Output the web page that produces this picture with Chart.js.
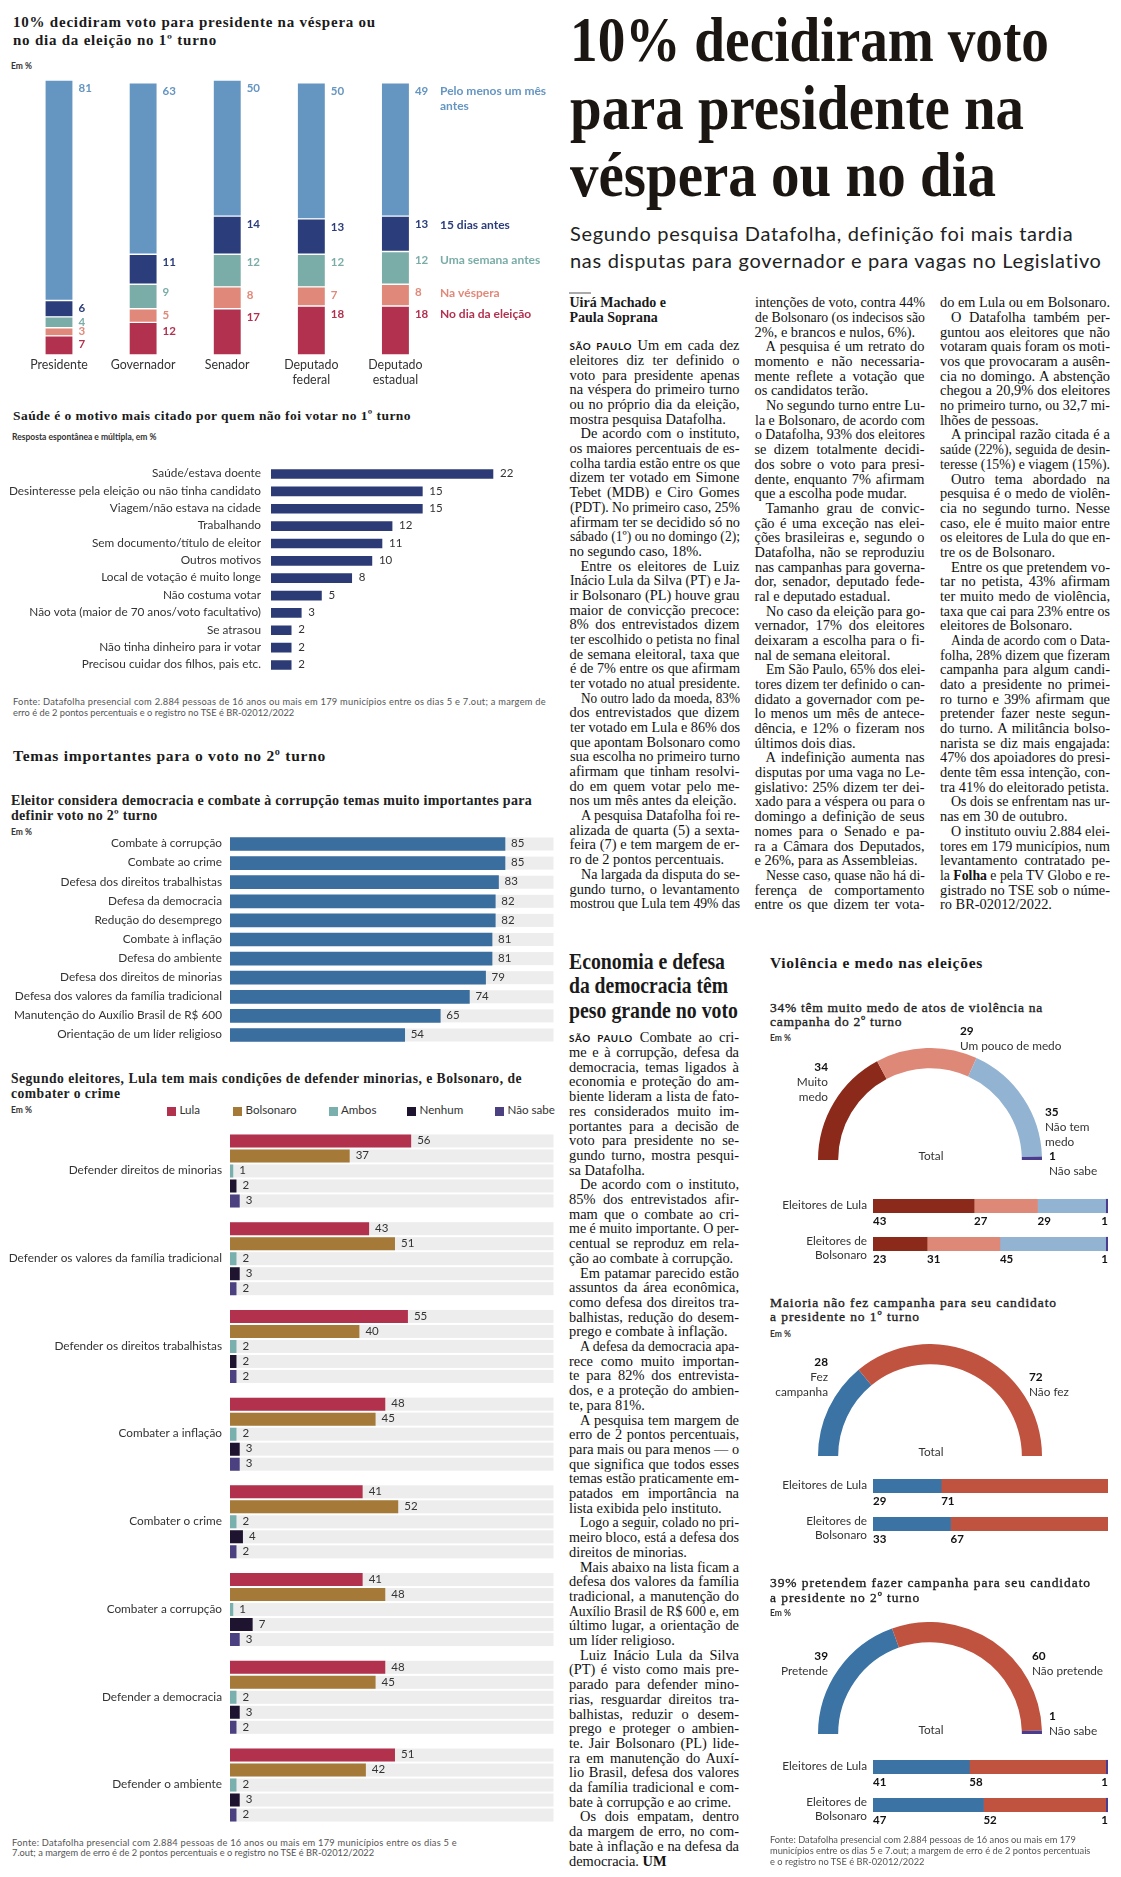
<!DOCTYPE html>
<html lang="pt-BR"><head><meta charset="utf-8"><title>Datafolha</title>
<script src="https://cdn.jsdelivr.net/npm/chart.js@4.4.1/dist/chart.umd.min.js"></script>
<style>
html,body{margin:0;padding:0;background:#fff}
body{position:relative;width:1121px;height:1877px;overflow:hidden}
.t{position:absolute;white-space:nowrap}
.sp{font-family:Lato,sans-serif;font-weight:700;font-size:9.8px;letter-spacing:.7px}
</style></head><body>
<script>
// ---------------- DATA ----------------
// Chart 1: momento da decisão do voto (empilhado)
const c1Cats = [["Presidente"],["Governador"],["Senador"],["Deputado","federal"],["Deputado","estadual"]];
const c1Names = [["No dia da eleição"],["Na véspera"],["Uma semana antes"],["15 dias antes"],["Pelo menos um mês","antes"]];
const c1NoDia   = [7,12,17,18,18];
const c1Vespera = [3,5,8,7,8];
const c1Semana  = [4,9,12,12,12];
const c1Quinze  = [6,11,14,13,13];
const c1Mes     = [81,63,50,50,49];

// Chart 2: motivos para não votar
const c2Cats = ["Saúde/estava doente","Desinteresse pela eleição ou não tinha candidato","Viagem/não estava na cidade","Trabalhando","Sem documento/título de eleitor","Outros motivos","Local de votação é muito longe","Não costuma votar","Não vota (maior de 70 anos/voto facultativo)","Se atrasou","Não tinha dinheiro para ir votar","Precisou cuidar dos filhos, pais etc."];
const c2Vals = [22,15,15,12,11,10,8,5,3,2,2,2];

// Chart 3: temas muito importantes
const c3Cats = ["Combate à corrupção","Combate ao crime","Defesa dos direitos trabalhistas","Defesa da democracia","Redução do desemprego","Combate à inflação","Defesa do ambiente","Defesa dos direitos de minorias","Defesa dos valores da família tradicional","Manutenção do Auxílio Brasil de R$ 600","Orientação de um líder religioso"];
const c3Vals = [85,85,83,82,82,81,81,79,74,65,54];

// Chart 4: quem tem mais condições
const c4Cats = ["Defender direitos de minorias","Defender os valores da família tradicional","Defender os direitos trabalhistas","Combater a inflação","Combater o crime","Combater a corrupção","Defender a democracia","Defender o ambiente"];
const c4Series = ["Lula","Bolsonaro","Ambos","Nenhum","Não sabe"];
const c4Lula    = [56,43,55,48,41,41,48,51];
const c4Bols    = [37,51,40,45,52,48,45,42];
const c4Ambos   = [1,2,2,2,2,1,2,2];
const c4Nenhum  = [2,3,2,3,4,7,3,3];
const c4NaoSabe = [3,2,2,3,2,3,2,2];

// Gauges
const rowLabels = [["Eleitores de Lula"],["Eleitores de","Bolsonaro"]];
const g1Names = [["Muito","medo"],["Um pouco de medo"],["Não tem","medo"],["Não sabe"]];
const g1Total = [34,29,35,1];
const g1Lula  = [43,27,29,1];
const g1Bols  = [23,31,45,1];
const g2Names = [["Fez","campanha"],["Não fez"]];
const g2Total = [28,72];
const g2Lula  = [29,71];
const g2Bols  = [33,67];
const g3Names = [["Pretende"],["Não pretende"],["Não sabe"]];
const g3Total = [39,60,1];
const g3Lula  = [41,58,1];
const g3Bols  = [47,52,1];

// ---------------- STYLE ----------------
const SANS = "Lato, 'Noto Sans', sans-serif";
const SERIF = "'Liberation Serif', 'DejaVu Serif', serif";
const c1Colors = ['#b2314e','#e0897a','#7bada8','#2b3d7a','#6595c1'];
const c4Colors = ['#b2324e','#a57a39','#79b0ae','#1e1430','#4b4180'];
const g1Colors = ['#8b2a1b','#de8978','#93b3d2','#4a3d8f'];
const g2Colors = ['#3a73a4','#c0533f'];
const g3Colors = ['#3a73a4','#c0533f','#4a3d8f'];
const LBL = 11.8;

// ---------------- HELPERS ----------------
function T(x,yc,html,o){o=o||{};const fs=o.fs||11;const d=document.createElement('div');d.className='t';d.innerHTML=html;
  d.style.fontFamily=o.ff||SANS;d.style.fontSize=fs+'px';d.style.fontWeight=o.fw||'400';d.style.lineHeight=(fs*1.2)+'px';
  d.style.top=(yc-0.67*fs)+'px';d.style.color=o.col||'#222';
  if(o.stroke)d.style.webkitTextStroke=o.stroke+'px '+(o.col||'#222');
  if(o.ls!=null)d.style.letterSpacing=o.ls+'px';
  if(o.align==='right')d.style.right=(1121-x)+'px';
  else if(o.align==='center'){d.style.left=x+'px';d.style.transform='translateX(-50%)';}
  else d.style.left=x+'px';
  document.body.appendChild(d);
  if(o.fit){const w=d.getBoundingClientRect().width;const n=[...d.textContent].length;const ls=(o.fit-w)/n;d.style.letterSpacing=ls+'px';d.ls=ls;}
  if(o.sfit){const w=d.getBoundingClientRect().width;d.style.transformOrigin='0 50%';d.style.transform=`scaleX(${o.sfit/w})`;}
  return d;}
function body(x,y0,lh,w,lines,fs,contLast){
  lines.forEach((s,i)=>{ if(s===null)return;
    let ind=s.startsWith('^'); if(ind)s=s.slice(1);
    const next=lines[i+1];
    const last=(next===undefined)?!contLast:(next===null||next.startsWith('^'));
    const d=document.createElement('div');
    const left=x+(ind?11:0), width=w-(ind?11:0);
    d.style.cssText=`position:absolute;left:${left}px;top:${y0+i*lh-0.67*fs}px;width:${width}px;font-family:${SERIF};font-size:${fs}px;line-height:${fs*1.2}px;white-space:nowrap;color:#111`;
    d.innerHTML='<span>'+s+'</span>';
    document.body.appendChild(d);
    const nat=d.firstChild.getBoundingClientRect().width;
    if(nat>width-0.5){d.style.transformOrigin='0 50%';d.style.transform=`scaleX(${width/nat})`;}
    else if(!last){d.style.whiteSpace='normal';d.style.textAlign='justify';d.style.textAlignLast='justify';}
  });}
function mk(left,top,w,h,cfg){const d=document.createElement('div');
  d.style.cssText=`position:absolute;left:${left}px;top:${top}px;width:${w}px;height:${h}px`;
  const c=document.createElement('canvas');d.appendChild(c);document.body.appendChild(d);return new Chart(c,cfg);}
function opts(pad,extra){return Object.assign({responsive:true,maintainAspectRatio:false,animation:false,events:[],layout:{padding:pad},
  plugins:{legend:{display:false},tooltip:{enabled:false}}},extra||{});}

// ---------------- LEFT: CHART 1 ----------------
const t1a=T(13,23,'10% decidiram voto para presidente na véspera ou',{ff:SERIF,fs:15,fw:700,col:'#1a1a1a',fit:363});
T(13,41,'no dia da eleição no 1º turno',{ff:SERIF,fs:15,fw:700,col:'#1a1a1a',ls:t1a.ls});
T(11,67,'Em %',{fs:8.5,fw:700,col:'#333'});

const c1Plugin={id:'c1',afterDatasetsDraw(chart){const ctx=chart.ctx;ctx.save();ctx.textBaseline='middle';
  chart.data.datasets.forEach((ds,i)=>{chart.getDatasetMeta(i).data.forEach((el,j)=>{
    const top=Math.min(el.y,el.base),bot=Math.max(el.y,el.base);const y=Math.min(top+9,(top+bot)/2)-0.5;
    ctx.font=`700 11.5px ${SANS}`;ctx.fillStyle=c1Colors[i];ctx.textAlign='left';
    ctx.fillText(ds.data[j],el.x+el.width/2+6,y);
    if(j===ds.data.length-1){ctx.font=`700 12px ${SANS}`;c1Names[i].forEach((ln,k)=>ctx.fillText(ln,440,y+k*15));}
  });});
  const m=chart.getDatasetMeta(0);ctx.font=`12.4px ${SANS}`;ctx.fillStyle='#333';ctx.textAlign='center';
  chart.data.labels.forEach((lab,j)=>lab.forEach((ln,k)=>ctx.fillText(ln,m.data[j].x,chart.chartArea.bottom+9.5+k*15)));
  ctx.restore();}};
mk(0,70,560,320,{type:'bar',data:{labels:c1Cats,datasets:[c1NoDia,c1Vespera,c1Semana,c1Quinze,c1Mes].map((d,i)=>({data:d,backgroundColor:c1Colors[i],borderColor:'#fff',borderWidth:{top:1,bottom:1,left:0,right:0},borderSkipped:false,barThickness:27}))},
  options:opts({left:16.95,right:122.55,top:10,bottom:35},{scales:{x:{display:false,stacked:true},y:{display:false,stacked:true,min:0,max:101}}}),plugins:[c1Plugin]});

// ---------------- generic horizontal labels ----------------
function hLabels(catDs,catGap,valGap){return {id:'hl',afterDatasetsDraw(chart){const ctx=chart.ctx;ctx.save();ctx.textBaseline='middle';
  ctx.font=`11.5px ${SANS}`;ctx.fillStyle='#333';ctx.textAlign='left';
  chart.data.datasets.forEach((ds,i)=>{chart.getDatasetMeta(i).data.forEach((el,j)=>ctx.fillText(ds.data[j],el.x+valGap,el.y-0.5));});
  const m=chart.getDatasetMeta(catDs);ctx.textAlign='right';ctx.font=`${LBL}px ${SANS}`;
  chart.data.labels.forEach((lab,j)=>ctx.fillText(lab,chart.chartArea.left-catGap,m.data[j].y-0.5));
  ctx.restore();}};}
const bgPlugin={id:'bg',beforeDatasetsDraw(chart){const ctx=chart.ctx,xs=chart.scales.x;ctx.save();ctx.fillStyle='#ededed';
  chart.data.datasets.forEach((ds,i)=>chart.getDatasetMeta(i).data.forEach(el=>{const x0=xs.getPixelForValue(0),x1=xs.getPixelForValue(100);ctx.fillRect(x0,el.y-el.height/2,x1-x0,el.height);}));
  ctx.restore();}};

// ---------------- CHART 2 ----------------
T(13,417.5,'Saúde é o motivo mais citado por quem não foi votar no 1º turno',{ff:SERIF,fs:13.5,fw:700,col:'#1a1a1a',fit:398});
T(12,437.5,'Resposta espontânea e múltipla, em %',{fs:8.5,fw:700,col:'#333'});
mk(0,455,560,230,{type:'bar',data:{labels:c2Cats,datasets:[{data:c2Vals,backgroundColor:'#2c3b75',barThickness:9,borderWidth:0}]},
  options:opts({left:271,right:6.5,top:10.32,bottom:11.32},{indexAxis:'y',scales:{x:{display:false,min:0,max:28},y:{display:false}}}),plugins:[hLabels(0,10,7)]});
T(13,702,'Fonte: Datafolha presencial com 2.884 pessoas de 16 anos ou mais em 179 municípios entre os dias 5 e 7.out; a margem de',{fs:9.3,col:'#555',fit:533});
T(13,713,'erro é de 2 pontos percentuais e o registro no TSE é BR-02012/2022',{fs:9.3,col:'#555'});

// ---------------- CHART 3 ----------------
T(13,757,'Temas importantes para o voto no 2º turno',{ff:SERIF,fs:15.5,fw:700,col:'#1a1a1a',fit:313});
const t3=T(11,802,'Eleitor considera democracia e combate à corrupção temas muito importantes para',{ff:SERIF,fs:14,fw:700,col:'#222',fit:521});
T(11,817,'definir voto no 2º turno',{ff:SERIF,fs:14,fw:700,col:'#222',ls:t3.ls});
T(11,832.5,'Em %',{fs:8.5,fw:700,col:'#333'});
mk(0,825,560,230,{type:'bar',data:{labels:c3Cats,datasets:[{data:c3Vals,backgroundColor:'#3a6e9e',barThickness:13,borderWidth:0}]},
  options:opts({left:230,right:6.5,top:9.45,bottom:10.45},{indexAxis:'y',scales:{x:{display:false,min:0,max:100},y:{display:false}}}),plugins:[bgPlugin,hLabels(0,8,6)]});

// ---------------- CHART 4 ----------------
const t4=T(11,1080.5,'Segundo eleitores, Lula tem mais condições de defender minorias, e Bolsonaro, de',{ff:SERIF,fs:13.6,fw:700,col:'#222',fit:511});
T(11,1095,'combater o crime',{ff:SERIF,fs:13.6,fw:700,col:'#222',ls:t4.ls});
T(11,1111,'Em %',{fs:8.5,fw:700,col:'#333'});
const legX=[167,233,328.5,407,495];
c4Series.forEach((s,i)=>{const q=document.createElement('div');q.style.cssText=`position:absolute;left:${legX[i]}px;top:${1106.5}px;width:9px;height:9px;background:${c4Colors[i]}`;document.body.appendChild(q);
  T(legX[i]+12.5,1111,s,{fs:11.6,col:'#333'});});
mk(0,1120,560,715,{type:'bar',data:{labels:c4Cats,datasets:[c4Lula,c4Bols,c4Ambos,c4Nenhum,c4NaoSabe].map((d,i)=>({data:d,backgroundColor:c4Colors[i],borderWidth:0,categoryPercentage:0.855,barPercentage:0.867}))},
  options:opts({left:230,right:6.5,top:7.1,bottom:6.1},{indexAxis:'y',scales:{x:{display:false,min:0,max:100},y:{display:false}}}),plugins:[bgPlugin,hLabels(2,8,6)]});
T(12,1843,'Fonte: Datafolha presencial com 2.884 pessoas de 16 anos ou mais em 179 municípios entre os dias 5 e',{fs:9.3,col:'#555',fit:445});
T(12,1853.5,'7.out; a margem de erro é de 2 pontos percentuais e o registro no TSE é BR-02012/2022',{fs:9.3,col:'#555'});

// ---------------- RIGHT: HEADLINE ----------------
T(570,44.9,'10% decidiram voto',{ff:SERIF,fs:64,fw:700,col:'#1b1611',sfit:479});
T(570,112.9,'para presidente na',{ff:SERIF,fs:64,fw:700,col:'#1b1611',sfit:454});
T(570,179.9,'véspera ou no dia',{ff:SERIF,fs:64,fw:700,col:'#1b1611',sfit:426});
T(570,234,'Segundo pesquisa Datafolha, definição foi mais tardia',{fs:20,col:'#222',fit:503});
T(570,261,'nas disputas para governador e para vagas no Legislativo',{fs:20,col:'#222',fit:532});
(function(){const r=document.createElement('div');r.style.cssText='position:absolute;left:569px;top:292px;width:22px;height:1.5px;background:#aaa';document.body.appendChild(r);})();
T(569.5,304,'Uirá Machado e',{ff:SERIF,fs:14,fw:700,col:'#1a1a1a'});
T(569.5,319,'Paula Soprana',{ff:SERIF,fs:14,fw:700,col:'#1a1a1a'});

const col1=[
"<span class=sp>SÃO PAULO</span> Um em cada dez",
"eleitores diz ter definido o",
"voto para presidente apenas",
"na véspera do primeiro turno",
"ou no próprio dia da eleição,",
"mostra pesquisa Datafolha.",
"^De acordo com o instituto,",
"os maiores percentuais de es-",
"colha tardia estão entre os que",
"dizem ter votado em Simone",
"Tebet (MDB) e Ciro Gomes",
"(PDT). No primeiro caso, 25%",
"afirmam ter se decidido só no",
"sábado (1º) ou no domingo (2);",
"no segundo caso, 18%.",
"^Entre os eleitores de Luiz",
"Inácio Lula da Silva (PT) e Ja-",
"ir Bolsonaro (PL) houve grau",
"maior de convicção precoce:",
"8% dos entrevistados dizem",
"ter escolhido o petista no final",
"de semana eleitoral, taxa que",
"é de 7% entre os que afirmam",
"ter votado no atual presidente.",
"^No outro lado da moeda, 83%",
"dos entrevistados que dizem",
"ter votado em Lula e 86% dos",
"que apontam Bolsonaro como",
"sua escolha no primeiro turno",
"afirmam que tinham resolvi-",
"do em quem votar pelo me-",
"nos um mês antes da eleição.",
"^A pesquisa Datafolha foi re-",
"alizada de quarta (5) a sexta-",
"feira (7) e tem margem de er-",
"ro de 2 pontos percentuais.",
"^Na largada da disputa do se-",
"gundo turno, o levantamento",
"mostrou que Lula tem 49% das"];
const col2=[
"intenções de voto, contra 44%",
"de Bolsonaro (os indecisos são",
"2%, e brancos e nulos, 6%).",
"^A pesquisa é um retrato do",
"momento e não necessaria-",
"mente reflete a votação que",
"os candidatos terão.",
"^No segundo turno entre Lu-",
"la e Bolsonaro, de acordo com",
"o Datafolha, 93% dos eleitores",
"se dizem totalmente decidi-",
"dos sobre o voto para presi-",
"dente, enquanto 7% afirmam",
"que a escolha pode mudar.",
"^Tamanho grau de convic-",
"ção é uma exceção nas elei-",
"ções brasileiras e, segundo o",
"Datafolha, não se reproduziu",
"nas campanhas para governa-",
"dor, senador, deputado fede-",
"ral e deputado estadual.",
"^No caso da eleição para go-",
"vernador, 17% dos eleitores",
"deixaram a escolha para o fi-",
"nal de semana eleitoral.",
"^Em São Paulo, 65% dos elei-",
"tores dizem ter definido o can-",
"didato a governador com pe-",
"lo menos um mês de antece-",
"dência, e 12% o fizeram nos",
"últimos dois dias.",
"^A indefinição aumenta nas",
"disputas por uma vaga no Le-",
"gislativo: 25% dizem ter dei-",
"xado para a véspera ou para o",
"domingo a definição de seus",
"nomes para o Senado e pa-",
"ra a Câmara dos Deputados,",
"e 26%, para as Assembleias.",
"^Nesse caso, quase não há di-",
"ferença de comportamento",
"entre os que dizem ter vota-"];
const col3=[
"do em Lula ou em Bolsonaro.",
"^O Datafolha também per-",
"guntou aos eleitores que não",
"votaram quais foram os moti-",
"vos que provocaram a ausên-",
"cia no domingo. A abstenção",
"chegou a 20,9% dos eleitores",
"no primeiro turno, ou 32,7 mi-",
"lhões de pessoas.",
"^A principal razão citada é a",
"saúde (22%), seguida de desin-",
"teresse (15%) e viagem (15%).",
"^Outro tema abordado na",
"pesquisa é o medo de violên-",
"cia no segundo turno. Nesse",
"caso, ele é muito maior entre",
"os eleitores de Lula do que en-",
"tre os de Bolsonaro.",
"^Entre os que pretendem vo-",
"tar no petista, 43% afirmam",
"ter muito medo de violência,",
"taxa que cai para 23% entre os",
"eleitores de Bolsonaro.",
"^Ainda de acordo com o Data-",
"folha, 28% dizem que fizeram",
"campanha para algum candi-",
"dato a presidente no primei-",
"ro turno e 39% afirmam que",
"pretender fazer neste segun-",
"do turno. A militância bolso-",
"narista se diz mais engajada:",
"47% dos apoiadores do presi-",
"dente têm essa intenção, con-",
"tra 41% do eleitorado petista.",
"^Os dois se enfrentam nas ur-",
"nas em 30 de outubro.",
"^O instituto ouviu 2.884 elei-",
"tores em 179 municípios, num",
"levantamento contratado pe-",
"la <b>Folha</b> e pela TV Globo e re-",
"gistrado no TSE sob o núme-",
"ro BR-02012/2022."];
const BFS=14.4;
body(569.5,347,14.68,170,col1,BFS,true);
body(754.5,304,14.68,170,col2,BFS,true);
body(940,304,14.68,170,col3,BFS,false);

// second article
T(569,963,'Economia e defesa',{ff:SERIF,fs:22.5,fw:700,col:'#1a1a1a',sfit:156});
T(569,987,'da democracia têm',{ff:SERIF,fs:22.5,fw:700,col:'#1a1a1a',sfit:159});
T(569,1012,'peso grande no voto',{ff:SERIF,fs:22.5,fw:700,col:'#1a1a1a',sfit:169});
const art2=[
"<span class=sp>SÃO PAULO</span> Combate ao cri-",
"me e à corrupção, defesa da",
"democracia, temas ligados à",
"economia e proteção do am-",
"biente lideram a lista de fato-",
"res considerados muito im-",
"portantes para a decisão de",
"voto para presidente no se-",
"gundo turno, mostra pesqui-",
"sa Datafolha.",
"^De acordo com o instituto,",
"85% dos entrevistados afir-",
"mam que o combate ao cri-",
"me é muito importante. O per-",
"centual se reproduz em rela-",
"ção ao combate à corrupção.",
"^Em patamar parecido estão",
"assuntos da área econômica,",
"como defesa dos direitos tra-",
"balhistas, redução do desem-",
"prego e combate à inflação.",
"^A defesa da democracia apa-",
"rece como muito importan-",
"te para 82% dos entrevista-",
"dos, e a proteção do ambien-",
"te, para 81%.",
"^A pesquisa tem margem de",
"erro de 2 pontos percentuais,",
"para mais ou para menos — o",
"que significa que todos esses",
"temas estão praticamente em-",
"patados em importância na",
"lista exibida pelo instituto.",
"^Logo a seguir, colado no pri-",
"meiro bloco, está a defesa dos",
"direitos de minorias.",
"^Mais abaixo na lista ficam a",
"defesa dos valores da família",
"tradicional, a manutenção do",
"Auxílio Brasil de R$ 600 e, em",
"último lugar, a orientação de",
"um líder religioso.",
"^Luiz Inácio Lula da Silva",
"(PT) é visto como mais pre-",
"parado para defender mino-",
"rias, resguardar direitos tra-",
"balhistas, reduzir o desem-",
"prego e proteger o ambien-",
"te. Jair Bolsonaro (PL) lide-",
"ra em manutenção do Auxí-",
"lio Brasil, defesa dos valores",
"da família tradicional e com-",
"bate à corrupção e ao crime.",
"^Os dois empatam, dentro",
"da margem de erro, no com-",
"bate à inflação e na defesa da",
"democracia. <b>UM</b>"];
body(569,1039,14.7,170,art2,BFS,false);

// ---------------- GAUGES ----------------
T(770,964,'Violência e medo nas eleições',{ff:SERIF,fs:15.5,fw:700,col:'#1a1a1a',fit:213});

function gauge(baseY,vals,colors){
  mk(818,baseY-112,224,112,{type:'doughnut',data:{labels:vals.map((v,i)=>'s'+i),datasets:[{data:vals,backgroundColor:colors,borderWidth:0,hoverOffset:0,offset:0}]},
    options:opts({left:0,right:0,top:0,bottom:0},{rotation:-90,circumference:180,cutout:'82%'})});
  T(931,baseY-3,'Total',{fs:11.8,col:'#333',align:'center'});
}
const rowPlugin={id:'rows',afterDatasetsDraw(chart){const ctx=chart.ctx;ctx.save();ctx.textBaseline='middle';
  const n=chart.data.datasets.length;
  chart.data.datasets.forEach((ds,k)=>{chart.getDatasetMeta(k).data.forEach((el,j)=>{const v=ds.data[j];const l=Math.min(el.x,el.base),r=Math.max(el.x,el.base);
    ctx.font=`700 11.5px ${SANS}`;ctx.fillStyle='#111';
    if(k===n-1&&v<5){ctx.textAlign='right';ctx.fillText(v,r,el.y+15);}else{ctx.textAlign='left';ctx.fillText(v,l,el.y+15);}
  });});
  const m=chart.getDatasetMeta(0);ctx.font=`${LBL}px ${SANS}`;ctx.fillStyle='#333';ctx.textAlign='right';
  chart.data.labels.forEach((lab,j)=>{const y=m.data[j].y;if(lab.length===1)ctx.fillText(lab[0],chart.chartArea.left-6,y-0.5);
    else lab.forEach((ln,i)=>ctx.fillText(ln,chart.chartArea.left-6,y-3+i*14.5));});
  ctx.restore();}};
function rows(areaTop,lula,bols,colors){
  mk(760,areaTop-5,361,106,{type:'bar',data:{labels:rowLabels,datasets:lula.map((v,k)=>({data:[lula[k],bols[k]],backgroundColor:colors[k],barThickness:13.5,borderWidth:0}))},
    options:opts({left:113,right:13,top:5,bottom:25},{indexAxis:'y',scales:{x:{display:false,stacked:true,min:0,max:100},y:{display:false,stacked:true}}}),plugins:[rowPlugin]});
}
function lbl(x,y,val,names,align){T(x,y,String(val),{fs:11.8,fw:700,col:'#111',align:align});
  names.forEach((n,i)=>T(x,y+15+i*14.5,n,{fs:11.8,col:'#333',align:align}));}

// Gauge 1
const gt1=T(770,1009,'34% têm muito medo de atos de violência na',{ff:SERIF,fs:13.5,col:'#222',stroke:0.35,fit:273});
T(770,1023,'campanha do 2º turno',{ff:SERIF,fs:13.5,col:'#222',stroke:0.35,ls:gt1.ls});
T(770,1039,'Em %',{fs:8.5,fw:700,col:'#333'});
gauge(1160,g1Total,g1Colors);
lbl(828,1068,g1Total[0],g1Names[0],'right');
lbl(960,1032,g1Total[1],g1Names[1]);
lbl(1045,1113,g1Total[2],g1Names[2]);
lbl(1049,1157,g1Total[3],g1Names[3]);
rows(1186.5,g1Lula,g1Bols,g1Colors);

// Gauge 2
const gt2=T(770,1304,'Maioria não fez campanha para seu candidato',{ff:SERIF,fs:13.5,col:'#222',stroke:0.35,fit:287});
T(770,1318,'a presidente no 1º turno',{ff:SERIF,fs:13.5,col:'#222',stroke:0.35,ls:gt2.ls});
T(770,1335,'Em %',{fs:8.5,fw:700,col:'#333'});
gauge(1456,g2Total,g2Colors);
lbl(828,1363,g2Total[0],g2Names[0],'right');
lbl(1029,1378,g2Total[1],g2Names[1]);
rows(1467,g2Lula,g2Bols,g2Colors);

// Gauge 3
const gt3=T(770,1584,'39% pretendem fazer campanha para seu candidato',{ff:SERIF,fs:13.5,col:'#222',stroke:0.35,fit:321});
T(770,1599,'a presidente no 2º turno',{ff:SERIF,fs:13.5,col:'#222',stroke:0.35,ls:gt3.ls});
T(770,1614,'Em %',{fs:8.5,fw:700,col:'#333'});
gauge(1734,g3Total,g3Colors);
lbl(828,1657,g3Total[0],g3Names[0],'right');
lbl(1032,1657,g3Total[1],g3Names[1]);
lbl(1049,1717,g3Total[2],g3Names[2]);
rows(1748,g3Lula,g3Bols,g3Colors);

T(770,1840,'Fonte: Datafolha presencial com 2.884 pessoas de 16 anos ou mais em 179',{fs:9.3,col:'#555'});
T(770,1851,'municípios entre os dias 5 e 7.out; a margem de erro é de 2 pontos percentuais',{fs:9.3,col:'#555'});
T(770,1862,'e o registro no TSE é BR-02012/2022',{fs:9.3,col:'#555'});
</script>
</body></html>
